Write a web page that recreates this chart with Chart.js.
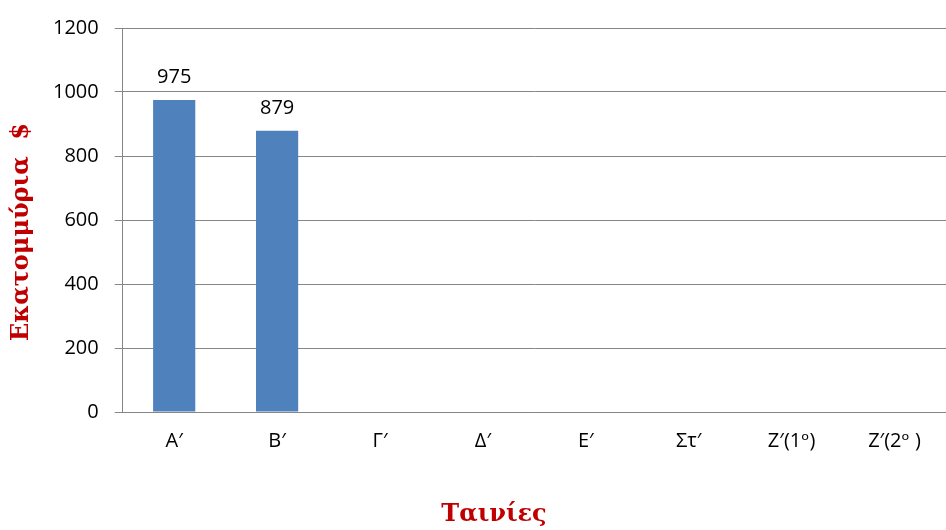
<!DOCTYPE html>
<html>
<head>
<meta charset="utf-8">
<script src="https://cdn.jsdelivr.net/npm/chart.js@4/dist/chart.umd.min.js"></script>
<style>
  html, body { margin: 0; padding: 0; background: #fff; }
  #wrap { width: 946px; height: 530px; }
</style>
</head>
<body>
<div id="wrap"><canvas id="c" width="946" height="530"></canvas></div>
<script>
// Box-office earnings per film (millions of dollars)
const categories = ['Α′', 'Β′', 'Γ′', 'Δ′', 'Ε′', 'Στ′', 'Ζ′(1ᵒ)', 'Ζ′(2ᵒ )'];
const earnings = [975, 879, null, null, null, null, null, null];
const yTicks = [0, 200, 400, 600, 800, 1000, 1200];

const xTitle = 'Ταινίες';
const yTitle = 'Εκατομμύρια  $';

const tickFont = { family: "'Open Sans', 'DejaVu Sans', sans-serif", size: 20 };
const titleFontCss = "bold 24px 'DejaVu Serif', 'Liberation Serif', serif";
const titleColor = '#C00000';
const gridColor = '#868686';

// Writes each bar's value just above it
const valueLabels = {
  id: 'valueLabels',
  afterDatasetsDraw(chart) {
    const ctx = chart.ctx;
    const meta = chart.getDatasetMeta(0);
    ctx.save();
    ctx.font = `${tickFont.size}px ${tickFont.family}`;
    ctx.fillStyle = '#000';
    ctx.textAlign = 'center';
    ctx.textBaseline = 'alphabetic';
    meta.data.forEach((bar, i) => {
      const v = earnings[i];
      if (v === null || v === undefined) return;
      ctx.fillText(String(v), bar.x, bar.y - 17);
    });
    ctx.restore();
  }
};

// Axis titles, placed relative to the plot area
const axisTitles = {
  id: 'axisTitles',
  afterDraw(chart) {
    const ctx = chart.ctx;
    const a = chart.chartArea;
    ctx.save();
    ctx.font = titleFontCss;
    ctx.fillStyle = titleColor;
    ctx.textAlign = 'center';
    ctx.textBaseline = 'middle';
    ctx.fillText(xTitle, a.left + (a.right - a.left) * 0.451, a.bottom + 103);
    ctx.translate(22, (a.top + a.bottom) / 2 + 12);
    ctx.rotate(-Math.PI / 2);
    ctx.fillText(yTitle, 0, 0);
    ctx.restore();
  }
};

new Chart(document.getElementById('c'), {
  type: 'bar',
  data: {
    labels: categories,
    datasets: [{
      data: earnings,
      backgroundColor: '#4F81BD',
      borderWidth: 0,
      categoryPercentage: 1.0,
      barPercentage: 0.41
    }]
  },
  options: {
    responsive: false,
    animation: false,
    layout: { padding: { top: 13, right: 0, bottom: 68, left: 37 } },
    plugins: {
      legend: { display: false },
      tooltip: { enabled: false }
    },
    scales: {
      x: {
        grid: { display: false },
        border: { color: gridColor, width: 1 },
        ticks: { color: '#000', font: tickFont, padding: 9, maxRotation: 0, autoSkip: false }
      },
      y: {
        min: 0, max: 1200,
        afterBuildTicks(axis) { axis.ticks = yTicks.map(v => ({ value: v })); },
        grid: { color: gridColor, lineWidth: 1, tickLength: 8, drawTicks: true },
        border: { color: gridColor, width: 1 },
        ticks: { color: '#000', font: tickFont, padding: 16, callback: v => String(v) }
      }
    }
  },
  plugins: [valueLabels, axisTitles]
});
</script>
</body>
</html>
